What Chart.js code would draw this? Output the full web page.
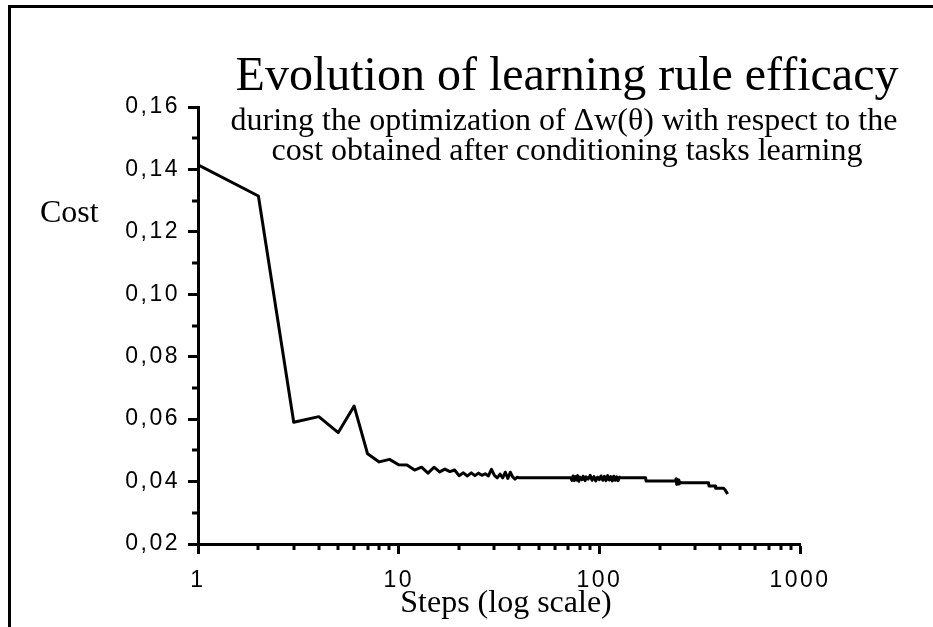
<!DOCTYPE html>
<html>
<head>
<meta charset="utf-8">
<script src="https://cdn.jsdelivr.net/npm/chart.js@4"></script>
<style>
html, body { margin: 0; padding: 0; background: #fff; }
#wrap { position: relative; width: 933px; height: 627px; overflow: hidden; }
#frame { position: absolute; left: 8px; top: 5px; right: -10px; bottom: -10px; border-left: 3px solid #000; border-top: 3px solid #000; }
canvas { position: absolute; left: 0; top: 0; }
</style>
</head>
<body>
<div id="wrap">
  <div id="frame"></div>
  <canvas id="chart" width="933" height="627"></canvas>
</div>
<script>
// data
const steps = [
  1, 2, 3, 4, 5, 6, 7, 8, 9, 10,
  11, 12, 13, 14, 15, 16, 17, 18, 19, 20,
  21, 22, 23, 24, 25, 26, 27, 28, 29, 30,
  31, 32, 33, 34, 35, 36, 37, 38, 39, 40,
  72, 73, 74, 75, 76, 77, 78, 79, 80, 82,
  83, 85, 86, 88, 90, 92, 94, 96, 98, 100,
  102, 104, 106, 108, 110, 112, 114, 116, 118, 120,
  122, 124, 126, 127, 170, 171, 239, 241, 243, 245,
  247, 249, 251, 253, 256, 350, 352, 378, 380, 416,
  424, 430, 436
];
const cost = [
  0.1415, 0.1315, 0.0590, 0.0608, 0.0557, 0.0642, 0.0489, 0.0463, 0.0471, 0.0454,
  0.0453, 0.0437, 0.0446, 0.0427, 0.0446, 0.0431, 0.0440, 0.0432, 0.0437, 0.0419,
  0.0428, 0.0418, 0.0428, 0.0419, 0.0427, 0.0420, 0.0425, 0.0418, 0.0439, 0.0420,
  0.0412, 0.0424, 0.0412, 0.0430, 0.0410, 0.0430, 0.0415, 0.0408, 0.0414, 0.0412,
  0.0412, 0.0404, 0.0418, 0.0403, 0.0416, 0.0405, 0.0419, 0.0401, 0.0414, 0.0406,
  0.0417, 0.0403, 0.0415, 0.0408, 0.0420, 0.0404, 0.0416, 0.0402, 0.0414, 0.0406,
  0.0418, 0.0404, 0.0417, 0.0403, 0.0419, 0.0405, 0.0416, 0.0402, 0.0417, 0.0404,
  0.0415, 0.0403, 0.0414, 0.0412, 0.0412, 0.0402, 0.0402, 0.0409, 0.0391, 0.0407,
  0.0392, 0.0405, 0.0394, 0.0398, 0.0396, 0.0396, 0.0386, 0.0386, 0.0379, 0.0379,
  0.0373, 0.0366, 0.0360
];

const xTicks = [1, 10, 100, 1000];
const yMin = 0.02;
const yMax = 0.16;
const yStep = 0.02;

const titleText = "Evolution of learning rule efficacy";
const subtitleLines = [
  "during the optimization of \u0394w(\u03b8) with respect to the",
  "cost obtained after conditioning tasks learning"
];
const yLabel = "Cost";
const xLabel = "Steps (log scale)";

const ink = "#000";
const serif = '"Liberation Serif", "Times New Roman", serif';
const sans = '"Liberation Sans", Arial, sans-serif';

// wide tracking on the tick numbers, like the original
const trackingPlugin = {
  id: "tracking",
  beforeDraw(chart) {
    chart.ctx.letterSpacing = "2.5px";
  }
};

// short minor ticks + the texts
const extrasPlugin = {
  id: "extras",
  afterDraw(chart) {
    const ctx = chart.ctx;
    const x = chart.scales.x;
    const y = chart.scales.y;
    const area = chart.chartArea;
    ctx.save();
    ctx.letterSpacing = "0px";
    ctx.strokeStyle = ink;
    ctx.lineWidth = 3;
    ctx.beginPath();
    for (let d = 1; d < 1000; d *= 10) {
      for (let k = 2; k <= 9; k++) {
        const px = Math.round(x.getPixelForValue(k * d));
        ctx.moveTo(px, area.bottom);
        ctx.lineTo(px, area.bottom + 6);
      }
    }
    for (let v = yMin + yStep / 2; v < yMax; v += yStep) {
      const py = Math.round(y.getPixelForValue(v));
      ctx.moveTo(area.left - 6, py);
      ctx.lineTo(area.left, py);
    }
    ctx.stroke();

    ctx.fillStyle = ink;
    ctx.textBaseline = "alphabetic";
    ctx.textAlign = "center";
    ctx.font = "48px " + serif;
    ctx.fillText(titleText, 567, 90);
    ctx.font = "32px " + serif;
    ctx.fillText(subtitleLines[0], 564, 130);
    ctx.fillText(subtitleLines[1], 567, 160);
    ctx.fillText(xLabel, 506, 612);
    ctx.textAlign = "left";
    ctx.fillText(yLabel, 40, 222);
    ctx.restore();
  }
};

new Chart(document.getElementById("chart"), {
  type: "line",
  data: {
    datasets: [{
      data: steps.map((s, i) => ({ x: s, y: cost[i] })),
      borderColor: ink,
      borderWidth: 3,
      borderJoinStyle: "round",
      pointRadius: 0,
      tension: 0,
      fill: false
    }]
  },
  options: {
    responsive: false,
    animation: false,
    events: [],
    layout: { padding: { left: 0, top: 107, right: 133, bottom: 23 } },
    plugins: {
      legend: { display: false },
      tooltip: { enabled: false },
      title: { display: false }
    },
    scales: {
      x: {
        type: "logarithmic",
        min: 1,
        max: 1000,
        afterBuildTicks: s => { s.ticks = xTicks.map(v => ({ value: v })); },
        afterFit: s => { s.height = 60; },
        border: { display: true, color: ink, width: 3 },
        grid: { drawOnChartArea: false, drawTicks: true, tickLength: 10, tickWidth: 3, tickColor: ink },
        ticks: {
          autoSkip: false,
          maxRotation: 0,
          padding: 13,
          color: ink,
          font: { family: sans, size: 23 },
          callback: v => String(v)
        }
      },
      y: {
        min: yMin,
        max: yMax,
        afterFit: s => { s.width = 198; },
        border: { display: true, color: ink, width: 3 },
        grid: { drawOnChartArea: false, drawTicks: true, tickLength: 10, tickWidth: 3, tickColor: ink },
        ticks: {
          stepSize: yStep,
          padding: 8,
          color: ink,
          font: { family: sans, size: 23 },
          callback: v => v.toFixed(2).replace(".", ",")
        }
      }
    }
  },
  plugins: [trackingPlugin, extrasPlugin]
});
</script>
</body>
</html>
